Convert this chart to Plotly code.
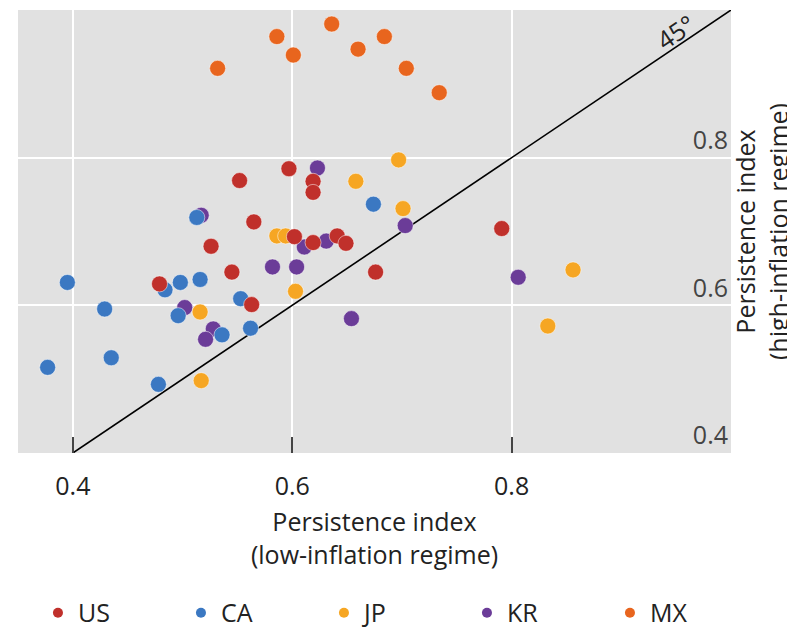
import plotly.graph_objects as go

# Persistence index: low-inflation regime (x) vs high-inflation regime (y)
us_x = [0.552, 0.597, 0.619, 0.619, 0.565, 0.526, 0.545, 0.479, 0.563, 0.602, 0.619, 0.641, 0.649, 0.676, 0.791]
us_y = [0.769, 0.785, 0.768, 0.753, 0.713, 0.680, 0.645, 0.629, 0.601, 0.693, 0.685, 0.694, 0.684, 0.645, 0.704]

ca_x = [0.513, 0.674, 0.395, 0.484, 0.498, 0.516, 0.553, 0.429, 0.496, 0.536, 0.562, 0.435, 0.377, 0.478]
ca_y = [0.719, 0.737, 0.631, 0.621, 0.631, 0.635, 0.609, 0.595, 0.586, 0.560, 0.569, 0.529, 0.516, 0.493]

jp_x = [0.697, 0.658, 0.701, 0.586, 0.594, 0.603, 0.516, 0.517, 0.856, 0.833]
jp_y = [0.797, 0.768, 0.731, 0.694, 0.694, 0.619, 0.591, 0.498, 0.648, 0.572]

kr_x = [0.623, 0.517, 0.703, 0.611, 0.631, 0.582, 0.604, 0.654, 0.502, 0.528, 0.521, 0.806]
kr_y = [0.786, 0.722, 0.708, 0.679, 0.687, 0.652, 0.652, 0.582, 0.597, 0.568, 0.554, 0.638]

mx_x = [0.532, 0.586, 0.601, 0.636, 0.660, 0.684, 0.704, 0.734]
mx_y = [0.921, 0.964, 0.939, 0.981, 0.947, 0.964, 0.921, 0.888]

diag = [0.4, 1.0]
x_ticks = [0.4, 0.6, 0.8]
y_ticks = [0.4, 0.6, 0.8]

colors = {"US": "#c0302b", "CA": "#3b78c2", "JP": "#f6a623", "KR": "#6b3c98", "MX": "#e8651e"}
series = {"US": (us_x, us_y), "CA": (ca_x, ca_y), "JP": (jp_x, jp_y), "KR": (kr_x, kr_y), "MX": (mx_x, mx_y)}

FONT = "Open Sans"
FS = 25
fig = go.Figure()

# diagonal 45 degree line
fig.add_trace(go.Scatter(x=diag, y=diag, mode="lines", line=dict(color="black", width=1.6),
                         showlegend=False, hoverinfo="skip"))

# draw order (purple below others)
for name in ["KR", "CA", "JP", "US", "MX"]:
    xs, ys = series[name]
    fig.add_trace(go.Scatter(x=xs, y=ys, mode="markers", name=name, showlegend=False,
                             marker=dict(size=16, color=colors[name],
                                         line=dict(color="rgba(255,255,255,0.5)", width=1))))

# legend entries
for i, name in enumerate(["US", "CA", "JP", "KR", "MX"]):
    fig.add_trace(go.Scatter(x=[None], y=[None], mode="markers", name=name, legendrank=i + 1,
                             marker=dict(size=10, color=colors[name])))

fig.add_annotation(x=0.949, y=0.97, xref="x", yref="y", text="45°", showarrow=False,
                   textangle=-34, font=dict(family=FONT, size=FS, color="#222"))

fig.update_layout(
    width=787, height=623,
    margin=dict(l=10, r=64, t=2, b=178),
    paper_bgcolor="white",
    plot_bgcolor="#e1e1e1",
    font=dict(family=FONT, size=FS, color="#222"),
    showlegend=True,
    legend=dict(orientation="h", x=0.028, y=0.0289, xanchor="left", yanchor="middle",
                yref="container",
                entrywidth=98, entrywidthmode="pixels", font=dict(size=FS),
                itemwidth=30, traceorder="normal"),
    xaxis=dict(range=[0.35, 1.0], tickvals=x_ticks, ticktext=["0.4", "0.6", "0.8"],
               showgrid=True, gridcolor="white", gridwidth=2, zeroline=False,
               ticks="inside", ticklen=16, tickwidth=2, tickcolor="#444",
               ticklabelstandoff=16, showline=False, automargin=False,
               title=dict(text="Persistence index<br>(low-inflation regime)", standoff=12,
                          font=dict(size=FS))),
    yaxis=dict(range=[0.4, 1.0], tickvals=y_ticks, ticktext=["0.4", "0.6", "0.8"],
               side="right", ticklabelposition="inside top",
               showgrid=True, gridcolor="white", gridwidth=2, zeroline=False,
               ticks="", showline=False, automargin=False,
               title=dict(text="Persistence index<br>(high-inflation regime)", standoff=5,
                          font=dict(size=FS))),
)

fig.write_html("out.html")
